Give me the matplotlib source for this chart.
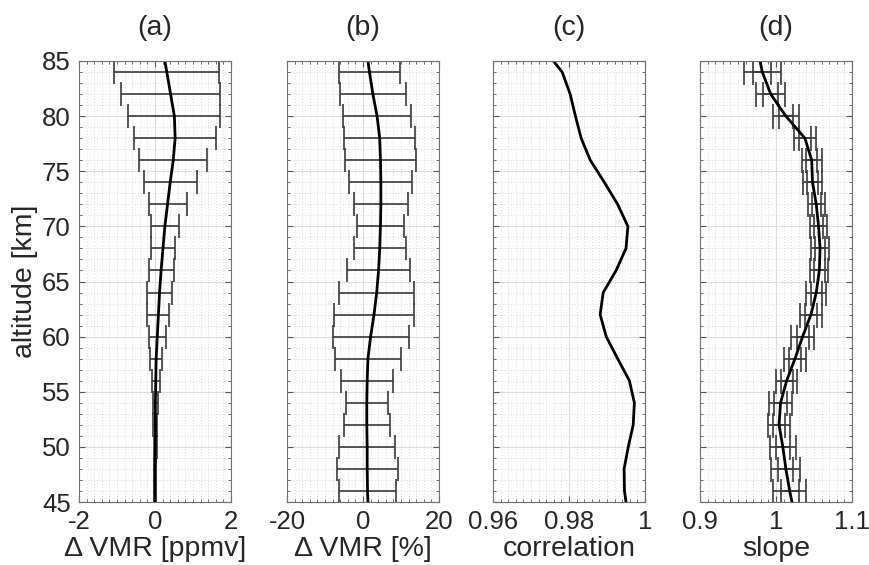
import numpy as np
import matplotlib
matplotlib.use('Agg')
from matplotlib import pyplot as plt
from matplotlib.ticker import MultipleLocator

plt.rcParams['font.family'] = ['Liberation Sans', 'DejaVu Sans']
plt.rcParams['axes.unicode_minus'] = False

# altitude grid of the profiles (km); error bars on the inner points
altitude = [45, 46, 48, 50, 52, 54, 56, 58, 60, 62, 64, 66, 68, 70, 72, 74, 76, 78, 80, 82, 84, 85]

# (a) mean difference in ppmv and its spread
dvmr_ppmv = [0.0, 0.0, 0.0, 0.01, 0.01, 0.01, 0.02, 0.03, 0.06, 0.09, 0.12, 0.16,
             0.21, 0.26, 0.33, 0.40, 0.48, 0.53, 0.51, 0.41, 0.31, 0.26]
dvmr_ppmv_err = [0.03, 0.03, 0.04, 0.05, 0.07, 0.10, 0.15, 0.23, 0.29, 0.32,
                 0.33, 0.32, 0.37, 0.50, 0.70, 0.90, 1.08, 1.21, 1.31, 1.38]

# (b) mean difference in percent and its spread
dvmr_pct = [1.3, 1.2, 1.1, 1.1, 1.0, 1.0, 1.1, 1.3, 2.0, 2.9, 3.6, 4.1,
            4.4, 4.6, 4.7, 4.7, 4.6, 4.4, 3.7, 2.6, 1.7, 1.3]
dvmr_pct_err = [7.4, 8.0, 7.3, 6.0, 5.5, 6.8, 8.6, 10.0, 10.6, 9.9,
                8.3, 6.8, 6.2, 7.2, 8.3, 9.3, 9.3, 9.0, 8.6, 8.1]

# (c) correlation
correlation = [0.9950, 0.9946, 0.9945, 0.9956, 0.9969, 0.9972, 0.9959, 0.9928, 0.9898,
               0.9882, 0.9890, 0.9924, 0.9950, 0.9955, 0.9928, 0.9893, 0.9856, 0.9832,
               0.9817, 0.9803, 0.9782, 0.9759]

# (d) slope with outer and inner uncertainty
slope = [1.021, 1.018, 1.013, 1.009, 1.004, 1.006, 1.014, 1.025, 1.035, 1.046, 1.053,
         1.057, 1.058, 1.056, 1.053, 1.048, 1.047, 1.038, 1.013, 0.993, 0.982, 0.979]
slope_err_outer = [0.022, 0.019, 0.017, 0.014, 0.015, 0.014, 0.014, 0.015, 0.014, 0.013,
                   0.012, 0.012, 0.011, 0.011, 0.012, 0.013, 0.014, 0.017, 0.019, 0.024]
slope_err_inner = [0.012, 0.010, 0.009, 0.008, 0.009, 0.008, 0.008, 0.008, 0.008, 0.007,
                   0.007, 0.007, 0.006, 0.006, 0.007, 0.007, 0.008, 0.009, 0.010, 0.012]

titles = ['(a)', '(b)', '(c)', '(d)']
xlabels = ['\u0394 VMR [ppmv]', '\u0394 VMR [%]', 'correlation', 'slope']
xlims = [(-2, 2), (-20, 20), (0.96, 1.0), (0.9, 1.1)]
xticks = [[-2, 0, 2], [-20, 0, 20], [0.96, 0.98, 1.0], [0.9, 1.0, 1.1]]
xticklabels = [['-2', '0', '2'], ['-20', '0', '20'], ['0.96', '0.98', '1'], ['0.9', '1', '1.1']]
xminor = [0.2, 2, 0.002, 0.01]
yticks = [45, 50, 55, 60, 65, 70, 75, 80, 85]

text_col = '#262626'
bar_col = '#3a3a3a'

fig = plt.figure(figsize=(8.69, 5.65), dpi=100)
W, H = 869.0, 565.0
lefts = [79, 287, 493, 700]
axes = []
for i, lx in enumerate(lefts):
    ax = fig.add_axes([lx / W, (H - 502) / H, 152 / W, 441 / H])
    axes.append(ax)

alt = np.array(altitude)
inner = alt[1:-1]

ax = axes[0]
ax.errorbar(np.array(dvmr_ppmv)[1:-1], inner, xerr=dvmr_ppmv_err, fmt='none',
            ecolor=bar_col, elinewidth=1.2, capsize=8.5, capthick=1.2)
ax.plot(dvmr_ppmv, alt, color='black', lw=2.0)

ax = axes[1]
ax.errorbar(np.array(dvmr_pct)[1:-1], inner, xerr=dvmr_pct_err, fmt='none',
            ecolor=bar_col, elinewidth=1.2, capsize=8.5, capthick=1.2)
ax.plot(dvmr_pct, alt, color='black', lw=2.0)

ax = axes[2]
ax.plot(correlation, alt, color='black', lw=2.0)

ax = axes[3]
ax.errorbar(np.array(slope)[1:-1], inner, xerr=slope_err_outer, fmt='none',
            ecolor=bar_col, elinewidth=1.2, capsize=9, capthick=1.2)
ax.errorbar(np.array(slope)[1:-1], inner, xerr=slope_err_inner, fmt='none',
            ecolor=bar_col, elinewidth=1.2, capsize=9, capthick=1.2)
ax.plot(slope, alt, color='black', lw=2.0)

for i, ax in enumerate(axes):
    ax.set_xlim(*xlims[i])
    ax.set_ylim(45, 85)
    ax.set_xticks(xticks[i])
    ax.set_xticklabels(xticklabels[i])
    ax.set_yticks(yticks)
    ax.xaxis.set_minor_locator(MultipleLocator(xminor[i]))
    ax.yaxis.set_minor_locator(MultipleLocator(1))
    ax.set_axisbelow(True)
    ax.grid(which='major', color='#dedede', lw=0.8, ls='-')
    ax.grid(which='minor', color='#cfcfcf', lw=0.6, ls=(0, (1, 2.5)))
    ax.tick_params(which='both', direction='in', top=True, right=True,
                   color='#555555', labelcolor=text_col, labelsize=18.5)
    ax.tick_params(which='major', length=4.5, width=0.8, pad=6)
    ax.tick_params(which='minor', length=2.5, width=0.6)
    for sp in ax.spines.values():
        sp.set_color('#707070')
        sp.set_linewidth(0.8)
    ax.set_title(titles[i], fontsize=20.5, color=text_col, pad=19)
    ax.set_xlabel(xlabels[i], fontsize=20.5, color=text_col, labelpad=1)
    if i > 0:
        ax.set_yticklabels([])

axes[0].set_ylabel('altitude [km]', fontsize=20.5, color=text_col, labelpad=3)

fig.savefig('out.png', dpi=100)
